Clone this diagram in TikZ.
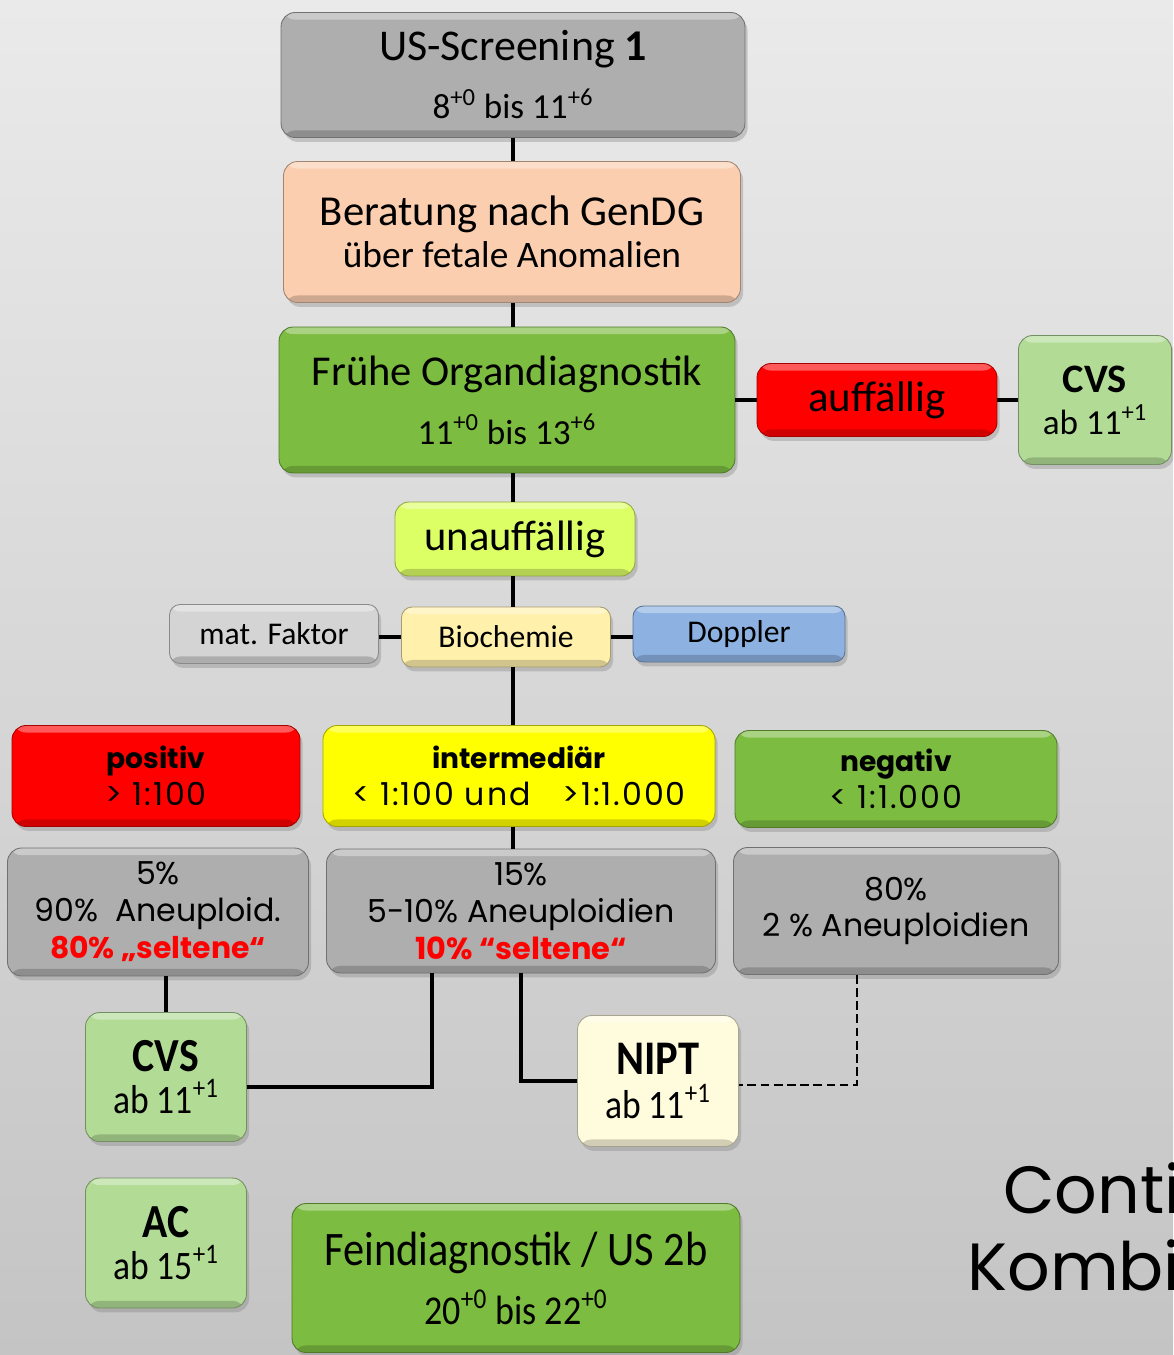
\documentclass[tikz,border=0pt]{standalone}
\usepackage{fontspec}
\setmainfont{Carlito}
\newfontfamily\gothic{Poppins}
\newfontfamily\gothicnum[LetterSpace=6]{Poppins}
\newfontfamily\narrow[FakeStretch=0.88]{Carlito}
\usepackage{tikz}
\usetikzlibrary{shadows}
\definecolor{bgTop}{RGB}{234,234,234}
\definecolor{bgBot}{RGB}{196,196,196}
\definecolor{boxGray}{RGB}{174,174,174}
\definecolor{boxPeach}{RGB}{251,206,176}
\definecolor{boxGreen}{RGB}{124,188,64}
\definecolor{boxRed}{RGB}{255,0,0}
\definecolor{boxLight}{RGB}{178,220,150}
\definecolor{boxLime}{RGB}{221,255,102}
\definecolor{boxCream}{RGB}{255,240,172}
\definecolor{boxSilver}{RGB}{212,212,212}
\definecolor{boxBlue}{RGB}{141,178,226}
\definecolor{boxYellow}{RGB}{255,255,0}
\definecolor{boxIvory}{RGB}{255,252,222}
\definecolor{textRed}{RGB}{255,0,0}

\begin{document}
\begin{tikzpicture}[x=0.02cm, y=-0.02cm]
  \tikzset{flowbox/.style={draw=#1!65!black, fill=#1, line width=0.5pt, rounded corners=8pt,
      inner sep=0pt, align=center, text=black,
      drop shadow={shadow xshift=1.5pt, shadow yshift=-2.5pt, opacity=0.35},
      path picture={
        \fill[white, opacity=0.35] (path picture bounding box.north west) rectangle ([yshift=-4pt]path picture bounding box.north east);
        \fill[black, opacity=0.18] ([yshift=4pt]path picture bounding box.south west) rectangle (path picture bounding box.south east);
      }}}
  \tikzset{link/.style={draw, line width=1.8pt, black}}

  \path[use as bounding box, clip] (0,0) rectangle (1173,1355);
  \shade[top color=bgTop, bottom color=bgBot] (0,0) rectangle (1173,1355);
  \coordinate (spine) at (513,0);

  \node[flowbox=boxGray, minimum width=9.28cm, minimum height=2.5cm, font=\fontsize{20}{33}\selectfont] (US) at (513,75)
    {{\fontsize{25}{33}\selectfont US-Screening \textbf{1}}\\8\textsuperscript{+0} bis 11\textsuperscript{+6}};
  \node[flowbox=boxPeach, minimum width=9.14cm, minimum height=2.82cm, font=\fontsize{21.3}{24}\selectfont] (Ber) at (512,232)
    {{\fontsize{24.3}{24}\selectfont Beratung nach GenDG}\\über fetale Anomalien};
  \node[flowbox=boxGreen, minimum width=9.12cm, minimum height=2.92cm, font=\fontsize{20}{33.5}\selectfont] (Fr) at (507,400)
    {{\fontsize{24.2}{33.5}\selectfont Frühe Organdiagnostik}\\11\textsuperscript{+0} bis 13\textsuperscript{+6}};
  \node[flowbox=boxRed, minimum width=4.8cm, minimum height=1.46cm, font=\fontsize{24.4}{26}\selectfont] (Auf) at (877,400) {auffällig};
  \node[flowbox=boxLight, minimum width=3.06cm, minimum height=2.58cm, font=\fontsize{20}{24}\selectfont] (CVSa) at (1095,400)
    {{\fontsize{23}{24}\selectfont\bfseries CVS}\\ab 11\textsuperscript{+1}};
  \node[flowbox=boxLime, minimum width=4.8cm, minimum height=1.48cm, font=\fontsize{24.2}{26}\selectfont] (Unauf) at (515,539) {unauffällig};

  \node[flowbox=boxSilver, minimum width=4.18cm, minimum height=1.18cm, rounded corners=6pt, font=\fontsize{18}{20}\selectfont] (Mat) at (274,634) {mat. Faktor};
  \node[flowbox=boxCream, minimum width=4.18cm, minimum height=1.2cm, rounded corners=6pt, font=\fontsize{18}{20}\selectfont] (Bio) at (506,637) {Biochemie};
  \node[flowbox=boxBlue, minimum width=4.24cm, minimum height=1.12cm, rounded corners=6pt, font=\fontsize{18}{20}\selectfont] (Dop) at (739,634) {Doppler};

  \node[flowbox=boxRed, minimum width=5.76cm, minimum height=2.02cm, font=\gothicnum\fontsize{18}{21}\selectfont] (Pos) at (156,776)
    {{\gothic\fontsize{16}{21}\selectfont\bfseries positiv}\\> 1:100};
  \node[flowbox=boxYellow, minimum width=7.84cm, minimum height=2.02cm, font=\gothicnum\fontsize{18}{21}\selectfont] (Int) at (519,776)
    {{\gothic\fontsize{16}{21}\selectfont\bfseries intermediär}\\< 1:100 und\quad >1:1.000};
  \node[flowbox=boxGreen, minimum width=6.44cm, minimum height=1.94cm, font=\gothicnum\fontsize{18}{21}\selectfont] (Neg) at (896,779)
    {{\gothic\fontsize{16}{21}\selectfont\bfseries negativ}\\< 1:1.000};

  \node[flowbox=boxGray, minimum width=6.02cm, minimum height=2.56cm, font=\gothic\fontsize{18}{21}\selectfont] (Gr5) at (158,912)
    {5\%\\90\%\ \ Aneuploid.\\\textcolor{textRed}{\fontsize{17}{21}\selectfont\bfseries 80\% „seltene“}};
  \node[flowbox=boxGray, minimum width=7.78cm, minimum height=2.48cm, font=\gothic\fontsize{18}{21}\selectfont] (Gr15) at (521,911)
    {15\%\\5-10\% Aneuploidien\\\textcolor{textRed}{\fontsize{17.3}{21}\selectfont\bfseries 10\% “seltene“}};
  \node[flowbox=boxGray, minimum width=6.5cm, minimum height=2.54cm, font=\gothic\fontsize{18}{21}\selectfont] (Gr80) at (896,911)
    {80\%\\2 \% Aneuploidien};

  \node[flowbox=boxLight, minimum width=3.22cm, minimum height=2.58cm, font=\narrow\fontsize{23}{23.5}\selectfont] (CVSb) at (166,1077)
    {{\fontsize{27}{23.5}\selectfont\bfseries CVS}\\ab 11\textsuperscript{+1}};
  \node[flowbox=boxIvory, minimum width=3.22cm, minimum height=2.62cm, font=\narrow\fontsize{23}{25}\selectfont] (NIPT) at (658,1081)
    {{\fontsize{27.5}{25}\selectfont\bfseries NIPT}\\ab 11\textsuperscript{+1}};
  \node[flowbox=boxLight, minimum width=3.22cm, minimum height=2.6cm, font=\narrow\fontsize{23}{23.5}\selectfont] (AC) at (166,1243)
    {{\fontsize{27}{23.5}\selectfont\bfseries AC}\\ab 15\textsuperscript{+1}};
  \node[flowbox=boxGreen, minimum width=8.96cm, minimum height=2.98cm, font=\narrow\fontsize{23.3}{33.5}\selectfont] (Fein) at (516,1278)
    {{\fontsize{27.4}{33.5}\selectfont Feindiagnostik / US 2b}\\20\textsuperscript{+0} bis 22\textsuperscript{+0}};

  \node[anchor=base west, inner sep=0pt, font=\gothic\fontsize{38}{40}\selectfont] (Cont) at (1003,1213) {Contin};
  \node[anchor=base west, inner sep=0pt, font=\gothic\fontsize{38}{40}\selectfont] (Komb) at (967,1290) {Kombin};

  \path[link] (spine |- US.south) -- (spine |- Ber.north);
  \path[link] (spine |- Ber.south) -- (spine |- Fr.north);
  \path[link] (Fr.east |- Auf.west) -- (Auf.west);
  \path[link] (Auf.east) -- (Auf.east -| CVSa.west);
  \path[link] (spine |- Fr.south) -- (spine |- Unauf.north);
  \path[link] (spine |- Unauf.south) -- (spine |- Bio.north);
  \path[link] (Mat.east |- Bio.west) -- (Bio.west);
  \path[link] (Bio.east) -- (Bio.east -| Dop.west);
  \path[link] (spine |- Bio.south) -- (spine |- Int.north);
  \path[link] (spine |- Int.south) -- (spine |- Gr15.north);

  \coordinate (k1) at (432,1087);
  \coordinate (k2) at (857,1085);
  \path[link] (CVSb.north |- Gr5.south) -- (CVSb.north);
  \path[link] (Gr15.south -| k1) -- (k1) -- (k1 -| CVSb.east);
  \path[link] (Gr15.south) -- (Gr15.south |- NIPT.west) -- (NIPT.west);
  \path[link, line width=1.2pt, dash pattern=on 5pt off 2.5pt] (Gr80.south -| k2) -- (k2) -- (k2 -| NIPT.east);
\end{tikzpicture}
\end{document}
